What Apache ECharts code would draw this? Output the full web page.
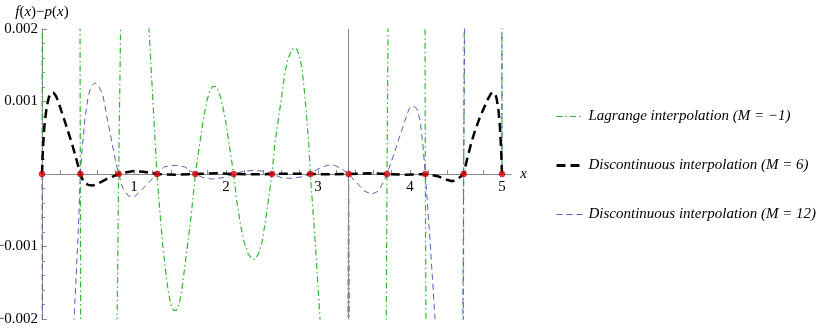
<!DOCTYPE html>
<html>
<head>
<meta charset="utf-8">
<script src="https://cdn.jsdelivr.net/npm/echarts@6/dist/echarts.min.js"></script>
<style>html,body{margin:0;padding:0;background:#fff}#c{width:830px;height:329px}</style>
</head>
<body>
<div id="c"></div>
<script>
// ---- data ----
const nodeX = [0, 0.4167, 0.8333, 1.25, 1.6667, 2.0833, 2.5, 2.9167, 3.3333, 3.75, 4.1667, 4.5833, 5];
const nodeY = [0, 0, 0, 0, 0, 0, 0, 0, 0, 0, 0, 0, 0];
const jumpX = 3.3333;

const lagrangeName = 'Lagrange interpolation (M = \u22121)';
const lagrangeX = [0, 0.005, 0.2, 0.41, 0.4167, 0.423, 0.6, 0.8, 0.8333, 0.875, 1.0, 1.12, 1.163, 1.217, 1.25, 1.28, 1.31, 1.34, 1.37, 1.4, 1.43, 1.46, 1.49, 1.52, 1.55, 1.58, 1.61, 1.64, 1.6667, 1.7, 1.73, 1.76, 1.79, 1.82, 1.85, 1.88, 1.91, 1.94, 1.97, 2.0, 2.04, 2.0833, 2.12, 2.16, 2.2, 2.24, 2.28, 2.31, 2.35, 2.39, 2.42, 2.46, 2.5, 2.53, 2.568, 2.605, 2.641, 2.677, 2.71, 2.74, 2.77, 2.8, 2.823, 2.848, 2.877, 2.9, 2.9167, 2.968, 3.022, 3.1, 3.2, 3.32, 3.3333, 3.345, 3.5, 3.735, 3.75, 3.772, 3.95, 4.16, 4.1667, 4.18, 4.4, 4.578, 4.5833, 4.595, 4.8, 4.998, 5];
const lagrangeY = [0, 0.004, 0.05, 0.004, 0, -0.004, -0.05, -0.004, 0, 0.004, 0.02, 0.004, 0.002, 0.00074, 0, -0.0005, -0.00095, -0.0013, -0.0016, -0.0018, -0.00188, -0.00188, -0.0018, -0.0016, -0.0013, -0.001, -0.0007, -0.00035, 0, 0.0003, 0.00055, 0.0008, 0.001, 0.00113, 0.0012, 0.00121, 0.00117, 0.00106, 0.0009, 0.0007, 0.00036, 0, -0.0004, -0.00072, -0.00095, -0.0011, -0.00117, -0.00118, -0.00111, -0.00095, -0.00072, -0.00037, 0, 0.0004, 0.00074, 0.00107, 0.00141, 0.0016, 0.0017, 0.00174, 0.00172, 0.00162, 0.00148, 0.0012, 0.00079, 0.0004, 0, -0.0009, -0.002, -0.006, -0.02, -0.003, 0, -0.003, -0.03, -0.004, 0, 0.004, 0.03, 0.004, 0, -0.004, -0.03, -0.004, 0, 0.004, 0.03, 0.004, 0];

const disc6Name = 'Discontinuous interpolation (M = 6)';
const disc6X = [0, 0.01, 0.025, 0.05, 0.075, 0.1, 0.125, 0.15, 0.18, 0.21, 0.25, 0.29, 0.33, 0.37, 0.4167, 0.45, 0.5, 0.55, 0.6, 0.7, 0.8, 0.8333, 0.9, 1.0, 1.1, 1.25, 1.45, 1.6667, 1.9, 2.0833, 2.3, 2.5, 2.7, 2.9167, 3.1, 3.3333, 3.55, 3.75, 3.95, 4.1667, 4.3, 4.4, 4.46, 4.52, 4.5833, 4.62, 4.66, 4.7, 4.75, 4.8, 4.85, 4.88, 4.9, 4.92, 4.94, 4.96, 4.975, 4.99, 5];
const disc6Y = [0, 0.00035, 0.00065, 0.00092, 0.00106, 0.00112, 0.00112, 0.00108, 0.00099, 0.00087, 0.00072, 0.00056, 0.0004, 0.00022, 0, -0.0001, -0.00015, -0.00016, -0.00014, -0.00007, -0.00002, 0, 0.00002, 0.00004, 0.00003, 0, -0.00001, 0, 0.00001, 0, -0.000005, 0, 0.000005, 0, -0.000005, 0, 0.00001, 0, -0.00001, 0, -0.00003, -0.00008, -0.0001, -0.00007, 0, 0.0002, 0.0004, 0.00057, 0.00075, 0.0009, 0.00104, 0.00111, 0.00113, 0.00112, 0.00105, 0.0009, 0.0007, 0.00035, 0];

const disc12Name = 'Discontinuous interpolation (M = 12)';
const disc12X = [0, 0.005, 0.05, 0.2, 0.3, 0.348, 0.372, 0.395, 0.4167, 0.44, 0.467, 0.5, 0.53, 0.576, 0.62, 0.66, 0.707, 0.75, 0.8, 0.8333, 0.88, 0.94, 1.0, 1.06, 1.15, 1.25, 1.33, 1.45, 1.55, 1.6667, 1.75, 1.85, 1.97, 2.0833, 2.2, 2.3, 2.4, 2.5, 2.6, 2.7, 2.82, 2.9167, 3.0, 3.1, 3.18, 3.27, 3.3333, 3.42, 3.5, 3.58, 3.65, 3.7, 3.75, 3.8, 3.87, 3.946, 3.99, 4.033, 4.075, 4.11, 4.14, 4.1667, 4.217, 4.272, 4.4, 4.565, 4.5833, 4.605, 4.8, 4.998, 5];
const disc12Y = [0, -0.004, -0.01, -0.02, -0.006, -0.002, -0.0014, -0.00077, 0, 0.0004, 0.00077, 0.00105, 0.0012, 0.00126, 0.0012, 0.0011, 0.00078, 0.0005, 0.00018, 0, -0.0002, -0.0003, -0.00032, -0.00025, -0.00013, 0, 0.0001, 0.00012, 0.0001, 0, -0.00005, -0.00007, -0.00005, 0, 0.00004, 0.00005, 0.00004, 0, -0.00005, -0.00006, -0.00004, 0, 0.00007, 0.00012, 0.00012, 0.00006, 0, -0.00012, -0.00023, -0.00028, -0.00024, -0.00014, 0, 0.00018, 0.00045, 0.00074, 0.0009, 0.00094, 0.0009, 0.00074, 0.0004, 0, -0.0009, -0.002, -0.02, -0.004, 0, 0.004, 0.02, 0.004, 0];

const xTickValues = [0.2, 0.4, 0.6, 0.8, 1, 1.2, 1.4, 1.6, 1.8, 2, 2.2, 2.4, 2.6, 2.8, 3, 3.2, 3.4, 3.6, 3.8, 4, 4.2, 4.4, 4.6, 4.8, 5];
const xLabelValues = [1, 2, 3, 4, 5];
const xLabels = ['1', '2', '3', '4', '5'];
const yLabelValues = [-0.002, -0.001, 0.001, 0.002];
const yLabels = ['\u22120.002', '\u22120.001', '0.001', '0.002'];

// ---- chart ----
const FONT = 'Liberation Serif';
const zip = (xs, ys) => xs.map((x, i) => [x, ys[i]]);
const AXIS_GRAY = '#8a8a8a';
const GREEN = '#2eb82e', BLUE = '#5c5cb8', BLACK = '#000000';
const GRID_TOP = 29, GRID_H = 290;

const chart = echarts.init(document.getElementById('c'), null, {renderer: 'canvas'});
chart.setOption({
  animation: false,
  backgroundColor: '#ffffff',
  grid: {left: 42, top: GRID_TOP, width: 469.2, height: GRID_H, containLabel: false, outerBoundsMode: 'none'},
  xAxis: {
    type: 'value', min: 0, max: 5.1, position: 'bottom',
    offset: -GRID_H / 2,
    name: 'x', nameLocation: 'end', nameGap: 9,
    nameTextStyle: {fontFamily: FONT, fontStyle: 'italic', fontSize: 15, color: '#000'},
    axisLine: {onZero: false, lineStyle: {color: AXIS_GRAY, width: 1}},
    axisTick: {show: true, inside: true, length: 4, customValues: xTickValues, lineStyle: {color: AXIS_GRAY}},
    axisLabel: {customValues: xLabelValues, margin: 6, fontFamily: FONT, fontSize: 15, color: '#000',
      formatter: v => { const i = xLabelValues.indexOf(Math.round(v * 1000) / 1000); return i >= 0 ? xLabels[i] : ''; }},
    splitLine: {show: false}
  },
  yAxis: {
    type: 'value', min: -0.002, max: 0.002, interval: 0.001,
    name: '{i|f}{n|(}{i|x}{n|)\u2212}{i|p}{n|(}{i|x}{n|)}', nameLocation: 'end', nameGap: 9,
    nameTextStyle: {fontFamily: FONT, fontSize: 15, color: '#000', align: 'center',
      rich: {i: {fontFamily: FONT, fontStyle: 'italic', fontSize: 15, color: '#000'},
             n: {fontFamily: FONT, fontSize: 15, color: '#000'}}},
    axisLine: {show: true, onZero: false, lineStyle: {color: AXIS_GRAY, width: 1}},
    axisTick: {show: true, inside: true, length: 5, lineStyle: {color: AXIS_GRAY}},
    minorTick: {show: true, splitNumber: 5, length: 3, lineStyle: {color: AXIS_GRAY}},
    axisLabel: {customValues: yLabelValues, margin: 4, fontFamily: FONT, fontSize: 15, color: '#000',
      formatter: v => { let best = -1, d = 1; yLabelValues.forEach((t, i) => { if (Math.abs(t - v) < d) { d = Math.abs(t - v); best = i; } }); return d < 1e-7 ? yLabels[best] : ''; }},
    splitLine: {show: false}
  },
  legend: {
    orient: 'vertical', left: 550, top: 104, itemWidth: 27, itemHeight: 14, itemGap: 34,
    textStyle: {fontFamily: FONT, fontStyle: 'italic', fontSize: 15, color: '#000'},
    itemStyle: {opacity: 0},
    selectedMode: false,
    data: [
      {name: lagrangeName, lineStyle: {width: 1.2}},
      {name: disc6Name, lineStyle: {width: 3}},
      {name: disc12Name, lineStyle: {width: 1}}
    ]
  },
  series: [
    {
      name: lagrangeName, type: 'line', data: zip(lagrangeX, lagrangeY),
      symbol: 'none', showSymbol: false, clip: true, z: 2,
      lineStyle: {color: GREEN, width: 1.2, type: [6, 3, 1.5, 3]},
      itemStyle: {color: GREEN},
      markLine: {silent: true, symbol: 'none', label: {show: false},
        lineStyle: {color: '#8a8a8a', type: 'solid', width: 1},
        data: [{xAxis: jumpX}]}
    },
    {
      name: disc12Name, type: 'line', data: zip(disc12X, disc12Y),
      symbol: 'none', showSymbol: false, clip: true, z: 3,
      lineStyle: {color: BLUE, width: 1, type: [6, 4]},
      itemStyle: {color: BLUE}
    },
    {
      name: disc6Name, type: 'line', data: zip(disc6X, disc6Y),
      symbol: 'none', showSymbol: false, clip: true, z: 4,
      lineStyle: {color: BLACK, width: 2.5, type: [9, 5]},
      itemStyle: {color: BLACK}
    },
    {
      name: 'nodes', type: 'scatter', data: zip(nodeX, nodeY), z: 5,
      symbol: 'circle', symbolSize: 6,
      itemStyle: {color: '#e8000b', borderColor: '#a00000', borderWidth: 0.5}
    }
  ]
});
</script>
</body>
</html>
